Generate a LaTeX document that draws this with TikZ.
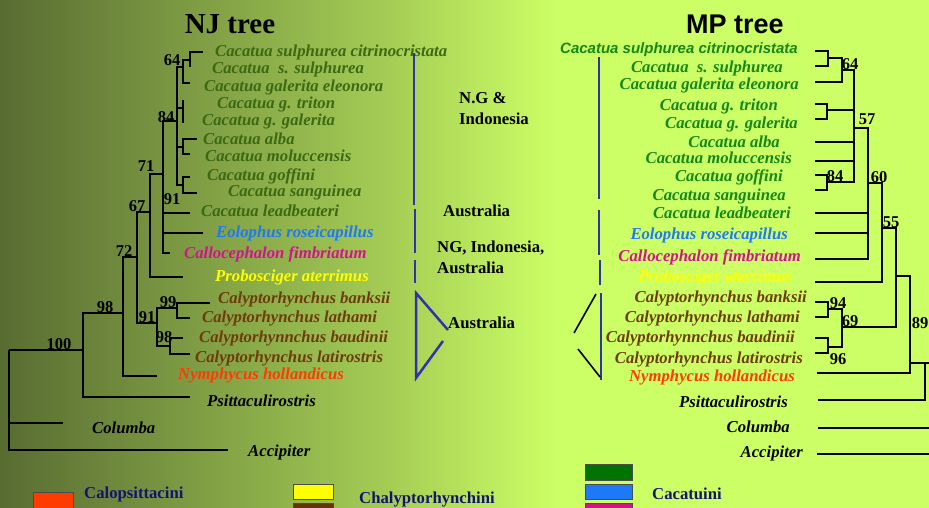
\documentclass[tikz,border=0pt]{standalone}
\usepackage{fontspec}
\setmainfont{Liberation Serif}
\newfontfamily\arialfont{Liberation Sans}
\usepackage{tikz}
\newcommand{\brw}{1.8pt}
\newcommand{\regw}{2.5pt}
\newcommand{\labsize}{\fontsize{16.7}{21}\selectfont}
\definecolor{bgdark}{RGB}{88,108,50}
\definecolor{bgmid}{RGB}{165,205,85}
\definecolor{bglight}{RGB}{204,255,102}
\definecolor{njgreen}{RGB}{60,105,20}
\definecolor{mpgreen}{RGB}{20,135,20}
\definecolor{eoblue}{RGB}{30,120,250}
\definecolor{calmag}{RGB}{210,20,140}
\definecolor{probyel}{RGB}{255,255,0}
\definecolor{calybrown}{RGB}{110,60,10}
\definecolor{nymred}{RGB}{255,60,0}
\definecolor{regblue}{RGB}{50,50,170}
\definecolor{legnavy}{RGB}{20,20,110}
\pgfdeclarehorizontalshading{bgshade}{100bp}{color(0bp)=(bgdark); color(25bp)=(bgdark); color(46bp)=(bgmid); color(55bp)=(bglight); color(100bp)=(bglight)}

\begin{document}
\begin{tikzpicture}[x=1pt,y=-1pt,
        branch/.style={line width=\brw},
        region/.style={draw=regblue, line width=\regw},
        njlab/.style={inner sep=0pt, anchor=base west, font=\labsize\bfseries\itshape},
        mplab/.style={inner sep=0pt, anchor=base east, font=\labsize\bfseries\itshape},
        boot/.style={inner sep=0pt, font=\fontsize{16.5}{18}\selectfont\bfseries},
        regtxt/.style={inner sep=0pt, anchor=base west, font=\labsize\bfseries},
        legbox/.style={draw=black!70, line width=0.6pt},
        legtxt/.style={inner sep=0pt, anchor=base west, text=legnavy, font=\labsize\bfseries}]
                %\draw[help lines] (0,0) grid (929,507);
                \useasboundingbox (0,0) rectangle (929,507);
                \shade[shading=bgshade] (0,0) rectangle (929,507);
                \clip (0,0) rectangle (929,507);

                \node[anchor=base, font=\fontsize{29}{32}\selectfont\bfseries] (njtitle) at (230,33) {NJ tree};
                \node[anchor=base, font=\arialfont\fontsize{27}{30}\selectfont\bfseries] (mptitle) at (735,33) {MP tree};

                % NJ tree
                \coordinate (nj0) at (9,350);
                \coordinate (nj100) at (83,350);
                \coordinate (nj98) at (123,313);
                \coordinate (nj72) at (137,257);
                \coordinate (nj67) at (150,212);
                \coordinate (nj71) at (163,174);
                \coordinate (nj84) at (177,121);
                \coordinate (nj64) at (183,67);
                \coordinate (njsul) at (190,60);
                \coordinate (njtri) at (183,108);
                \coordinate (njalb) at (183,147);
                \coordinate (njgof) at (183,185);
                \coordinate (nj91) at (157,323);
                \coordinate (nj99) at (177,308);
                \coordinate (nj98b) at (170,346);
                \foreach \n/\x/\y in {1/203/52, 2/190/67, 3/190/83, 4/183/100, 5/183/123, 6/197/139, 7/190/154,
                        8/190/177, 9/197/193, 10/190/213, 11/203/233, 12/170/253, 13/183/277, 14/210/303,
                        15/190/318, 16/183/338, 17/190/354, 18/157/376, 19/190/397, 20/63/423, 21/228/450}
                        \coordinate (tj\n) at (\x,\y);
                \draw[branch] (nj0) |- (nj100) (nj0) |- (tj20) (nj0) |- (tj21)
                        (nj100) |- (nj98) (nj100) |- (tj19)
                        (nj98) |- (nj72) (nj98) |- (tj18)
                        (nj72) |- (nj67) (nj72) |- (nj91)
                        (nj67) |- (nj71) (nj67) |- (tj13)
                        (nj71) |- (nj84) (nj71) |- (tj10) (nj71) |- (tj11) (nj71) |- (tj12)
                        (nj84) |- (nj64) (nj84) |- (njtri) (nj84) |- (njalb) (nj84) |- (njgof)
                        (nj64) |- (njsul) (nj64) |- (tj3)
                        (njsul) |- (tj1) (njsul) |- (tj2)
                        (njtri) |- (tj4) (njtri) |- (tj5)
                        (njalb) |- (tj6) (njalb) |- (tj7)
                        (njgof) |- (tj8) (njgof) |- (tj9)
                        (nj91) |- (nj99) (nj91) |- (nj98b)
                        (nj99) |- (tj14) (nj99) |- (tj15)
                        (nj98b) |- (tj16) (nj98b) |- (tj17);
                \node[boot] (bj100) at (59,344) {100};
                \node[boot] (bj98) at (105,307) {98};
                \node[boot] (bj72) at (124,251) {72};
                \node[boot] (bj67) at (137,206) {67};
                \node[boot] (bj71) at (146,166) {71};
                \node[boot] (bj91) at (172,199) {91};
                \node[boot] (bj84) at (166,117) {84};
                \node[boot] (bj64) at (172,60) {64};
                \node[boot] (bj91b) at (147,317) {91};
                \node[boot] (bj99) at (168,302) {99};
                \node[boot] (bj98b) at (164,337) {98};

                \node[njlab, text=njgreen] (lj1) at (215,56) {Cacatua sulphurea citrinocristata};
                \node[njlab, text=njgreen] (lj2) at (212,73) {Cacatua \ s. sulphurea};
                \node[njlab, text=njgreen] (lj3) at (204,91) {Cacatua galerita eleonora};
                \node[njlab, text=njgreen] (lj4) at (217,108) {Cacatua g. triton};
                \node[njlab, text=njgreen] (lj5) at (202,125) {Cacatua g. galerita};
                \node[njlab, text=njgreen] (lj6) at (203,144) {Cacatua alba};
                \node[njlab, text=njgreen] (lj7) at (205,161) {Cacatua moluccensis};
                \node[njlab, text=njgreen] (lj8) at (207,180) {Cacatua goffini};
                \node[njlab, text=njgreen] (lj9) at (228,196) {Cacatua sanguinea};
                \node[njlab, text=njgreen] (lj10) at (201,216) {Cacatua leadbeateri};
                \node[njlab, text=eoblue] (lj11) at (216,237) {Eolophus roseicapillus};
                \node[njlab, text=calmag] (lj12) at (184,258) {Callocephalon fimbriatum};
                \node[njlab, text=probyel] (lj13) at (215,281) {Probosciger aterrimus};
                \node[njlab, text=calybrown] (lj14) at (218,303) {Calyptorhynchus banksii};
                \node[njlab, text=calybrown] (lj15) at (202,322) {Calyptorhynchus lathami};
                \node[njlab, text=calybrown] (lj16) at (199,342) {Calyptorhynnchus baudinii};
                \node[njlab, text=calybrown] (lj17) at (195,362) {Calyptorhynchus latirostris};
                \node[njlab, text=nymred] (lj18) at (178,379) {Nymphycus hollandicus};
                \node[njlab] (lj19) at (207,406) {Psittaculirostris};
                \node[njlab] (lj20) at (92,433) {Columba};
                \node[njlab] (lj21) at (248,456) {Accipiter};

                % regions
                \draw[region] (414,53) -- (414,205);
                \draw[region] (415,209) -- (415,253);
                \draw[region] (415,260) -- (415,283);
                \draw[region] (448,330) -- (416,293) -- (416,378) -- (443,341);
                \draw[region] (599,57) -- (599,199);
                \draw[region] (599,210) -- (599,255);
                \draw[region] (600,260) -- (600,285);
                \draw[region] (601,293) -- (601,380);
                \draw[line width=1.6pt] (596,294) -- (574,333);
                \draw[line width=1.6pt] (578,349) -- (600,377);
                \node[regtxt, anchor=north west, align=left] (rng) at (459,92) {N.G \&\\Indonesia};
                \node[regtxt] (raus1) at (443,216) {Australia};
                \node[regtxt, anchor=north west, align=left] (rnia) at (437,241) {NG, Indonesia,\\Australia};
                \node[regtxt] (raus2) at (448,328) {Australia};

                % MP tree
                \coordinate (mpa) at (828,58);
                \coordinate (mp64) at (842,70);
                \coordinate (mpb) at (827,110);
                \coordinate (mp84) at (827,182);
                \coordinate (mp57) at (854,128);
                \coordinate (mp60) at (868,183);
                \coordinate (mp55) at (882,228);
                \coordinate (mpc) at (896,276);
                \coordinate (mp69) at (842,327);
                \coordinate (mp94) at (828,309);
                \coordinate (mp96) at (828,347);
                \coordinate (mp89) at (910,363);
                \coordinate (mpd) at (925,363);
                \coordinate (mpr) at (940,363);
                \coordinate (mpcolr) at (940,428);
                \coordinate (mpaccr) at (940,454);
                \foreach \n/\x/\y in {1/815/51, 2/815/66, 3/815/82, 4/815/104, 5/815/119, 6/815/142, 7/815/161,
                        8/815/175, 9/815/190, 10/815/213, 11/815/233, 12/815/259, 13/815/282, 14/815/302,
                        15/815/317, 16/815/338, 17/815/353, 18/817/373, 19/818/400, 20/818/428, 21/817/454}
                        \coordinate (tm\n) at (\x,\y);
                \draw[branch] (mpa) |- (tm1) (mpa) |- (tm2)
                        (mp64) |- (mpa) (mp64) |- (tm3)
                        (mpb) |- (tm4) (mpb) |- (tm5)
                        (mp84) |- (tm8) (mp84) |- (tm9)
                        (mp57) |- (mp64) (mp57) |- (mpb) (mp57) |- (tm6) (mp57) |- (tm7) (mp57) |- (mp84)
                        (mp60) |- (mp57) (mp60) |- (tm10) (mp60) |- (tm11) (mp60) |- (tm12)
                        (mp55) |- (mp60) (mp55) |- (tm13)
                        (mpc) |- (mp55) (mpc) |- (mp69)
                        (mp69) |- (mp94) (mp69) |- (mp96)
                        (mp94) |- (tm14) (mp94) |- (tm15)
                        (mp96) |- (tm16) (mp96) |- (tm17)
                        (mp89) |- (mpc) (mp89) |- (tm18)
                        (mpd) |- (mp89) (mpd) |- (tm19)
                        (mpr) -- (mpd) (mpcolr) -- (tm20) (mpaccr) -- (tm21);
                \node[boot] (bm64) at (850,64) {64};
                \node[boot] (bm84) at (835,176) {84};
                \node[boot] (bm57) at (867,119) {57};
                \node[boot] (bm60) at (879,177) {60};
                \node[boot] (bm55) at (891,222) {55};
                \node[boot] (bm94) at (838,303) {94};
                \node[boot] (bm69) at (850,321) {69};
                \node[boot] (bm96) at (838,359) {96};
                \node[boot] (bm89) at (920,323) {89};

                \node[mplab, text=mpgreen, font=\arialfont\fontsize{15}{18}\selectfont\bfseries\itshape] (lm1) at (798,53) {Cacatua sulphurea citrinocristata};
                \node[mplab, text=mpgreen] (lm2) at (783,72) {Cacatua \ s. sulphurea};
                \node[mplab, text=mpgreen] (lm3) at (799,89) {Cacatua galerita eleonora};
                \node[mplab, text=mpgreen] (lm4) at (778,110) {Cacatua g. triton};
                \node[mplab, text=mpgreen] (lm5) at (798,128) {Cacatua g. galerita};
                \node[mplab, text=mpgreen] (lm6) at (780,147) {Cacatua alba};
                \node[mplab, text=mpgreen] (lm7) at (792,163) {Cacatua moluccensis};
                \node[mplab, text=mpgreen] (lm8) at (783,181) {Cacatua goffini};
                \node[mplab, text=mpgreen] (lm9) at (786,200) {Cacatua sanguinea};
                \node[mplab, text=mpgreen] (lm10) at (791,218) {Cacatua leadbeateri};
                \node[mplab, text=eoblue] (lm11) at (788,239) {Eolophus roseicapillus};
                \node[mplab, text=calmag] (lm12) at (801,261) {Callocephalon fimbriatum};
                \node[mplab, text=probyel] (lm13) at (792,281) {Probosciger aterrimus};
                \node[mplab, text=calybrown] (lm14) at (807,302) {Calyptorhynchus banksii};
                \node[mplab, text=calybrown] (lm15) at (800,322) {Calyptorhynchus lathami};
                \node[mplab, text=calybrown] (lm16) at (795,342) {Calyptorhynnchus baudinii};
                \node[mplab, text=calybrown] (lm17) at (803,363) {Calyptorhynchus latirostris};
                \node[mplab, text=nymred] (lm18) at (795,381) {Nymphycus hollandicus};
                \node[mplab] (lm19) at (788,407) {Psittaculirostris};
                \node[mplab] (lm20) at (790,432) {Columba};
                \node[mplab] (lm21) at (803,457) {Accipiter};

                % legend
                \draw[legbox, fill=nymred] (33,492) rectangle (73,515);
                \draw[legbox, fill=probyel] (293,484) rectangle (333,499);
                \draw[legbox, fill=calybrown!90!black] (293,503) rectangle (333,515);
                \draw[legbox, fill=green!45!black] (585,464) rectangle (632,480);
                \draw[legbox, fill=eoblue] (585,484) rectangle (632,499);
                \draw[legbox, fill=calmag] (585,503) rectangle (632,515);
                \node[legtxt] (gcal) at (84,498) {Calopsittacini};
                \node[legtxt] (gchy) at (359,503) {Chalyptorhynchini};
                \node[legtxt] (gcac) at (652,499) {Cacatuini};
        \end{tikzpicture}
\end{document}
